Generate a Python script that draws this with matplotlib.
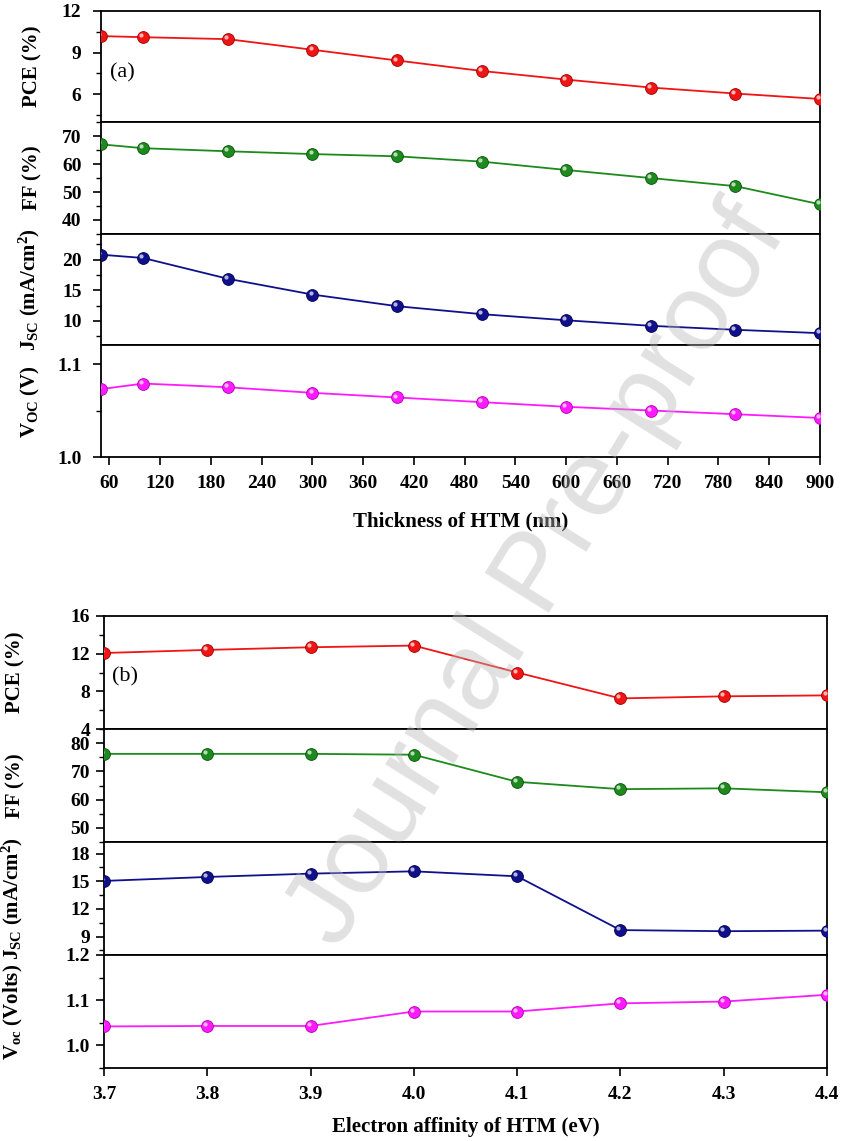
import matplotlib
matplotlib.use("Agg")
import matplotlib.pyplot as plt
from matplotlib.ticker import MultipleLocator
from matplotlib.transforms import ScaledTranslation

plt.rcParams['font.family'] = 'Liberation Serif'
plt.rcParams['font.weight'] = 'bold'
plt.rcParams['axes.labelweight'] = 'bold'
plt.rcParams['mathtext.fontset'] = 'custom'
plt.rcParams['mathtext.rm'] = 'Liberation Serif:bold'
plt.rcParams['mathtext.bf'] = 'Liberation Serif:bold'
plt.rcParams['mathtext.it'] = 'Liberation Serif:bold:italic'

# (a) HTM thickness sweep
thickness = [50, 100, 200, 300, 400, 500, 600, 700, 800, 900]
pce_a = [10.18, 10.10, 9.96, 9.20, 8.43, 7.68, 7.06, 6.49, 6.06, 5.67]
ff_a = [67.1, 65.7, 64.6, 63.6, 62.8, 60.9, 57.9, 55.0, 52.1, 45.6]
jsc_a = [20.80, 20.26, 16.87, 14.30, 12.40, 11.10, 10.10, 9.20, 8.55, 8.00]
voc_a = [1.073, 1.079, 1.075, 1.069, 1.064, 1.059, 1.054, 1.050, 1.046, 1.042]
thick_ticks = list(range(60, 901, 60))

# (b) electron affinity sweep
affinity = [3.7, 3.8, 3.9, 4.0, 4.1, 4.2, 4.3, 4.4]
pce_b = [12.07, 12.40, 12.68, 12.86, 10.00, 7.25, 7.47, 7.57]
ff_b = [76.2, 76.2, 76.2, 75.9, 66.3, 63.7, 64.0, 62.6]
jsc_b = [15.03, 15.46, 15.82, 16.07, 15.53, 9.70, 9.58, 9.64]
voc_b = [1.042, 1.043, 1.043, 1.075, 1.075, 1.093, 1.097, 1.112]
ea_ticks = [3.7, 3.8, 3.9, 4.0, 4.1, 4.2, 4.3, 4.4]

colors = {
    'pce': ('#f01414', '#a00000'),
    'ff': ('#1c8a1c', '#0a500a'),
    'jsc': ('#10108c', '#000050'),
    'voc': ('#ff1aff', '#b000b0'),
}

W, H = 841, 1141
fig = plt.figure(figsize=(W / 100, H / 100), dpi=100)


def make_rows(left, right, top, bottom):
    h = (bottom - top) / 4
    axes = []
    for i in range(4):
        y0 = top + i * h
        axes.append(fig.add_axes([left / W, 1 - (y0 + h) / H,
                                  (right - left) / W, h / H]))
    return axes


def draw_series(ax, x, y, key):
    face, edge = colors[key]
    ax.plot(x, y, '-', color=face, lw=1.3, zorder=2)
    ax.plot(x, y, 'o', ms=8.5, mfc=face, mec=edge, mew=0.6, zorder=3)
    # small highlight to give the markers a shaded-ball look
    shift = ax.transData + ScaledTranslation(-1.4 / 72, 1.4 / 72, fig.dpi_scale_trans)
    ax.plot(x, y, 'o', ms=3, mfc='white', mec='none', alpha=0.7,
            transform=shift, zorder=4)


def style_axis(ax, ylim, major, minor, ylabel, label_x, pad, last):
    ax.set_ylim(*ylim)
    ax.yaxis.set_major_locator(MultipleLocator(major))
    ax.yaxis.set_minor_locator(MultipleLocator(minor))
    ax.tick_params(axis='y', which='both', direction='out', right=False,
                   labelsize=14, pad=pad)
    ax.tick_params(axis='y', which='major', length=6, width=1.2)
    ax.tick_params(axis='y', which='minor', length=3.5, width=1.0)
    ax.tick_params(axis='x', which='both', top=False, bottom=last,
                   labelbottom=last, direction='out', length=6, width=1.2,
                   labelsize=14, pad=7)
    ax.xaxis.set_minor_locator(plt.NullLocator())
    for s in ax.spines.values():
        s.set_linewidth(1.3)
    ax.set_ylabel(ylabel, fontsize=15)
    ax.yaxis.set_label_coords(label_x, 0.5)


# panel (a)
rows_a = make_rows(101, 820, 10.7, 457)
specs_a = [
    (pce_a, 'pce', (4, 12), 3, 1.5, 'PCE (%)'),
    (ff_a, 'ff', (35, 75), 10, 5, 'FF (%)'),
    (jsc_a, 'jsc', (6, 24.2), 5, 2.5, r'J$_{\mathregular{SC}}$ (mA/cm$^{\mathregular{2}}$)'),
    (voc_a, 'voc', (1.0, 1.12), 0.1, 0.05, r'V$_{\mathregular{OC}}$ (V)'),
]
for i, (ax, (vals, key, ylim, mj, mn, lab)) in enumerate(zip(rows_a, specs_a)):
    draw_series(ax, thickness, vals, key)
    ax.set_xlim(50, 900)
    ax.set_xticks(thick_ticks)
    style_axis(ax, ylim, mj, mn, lab, -0.082, 8, i == 3)
rows_a[0].text(0.0125, 0.447, '(a)', transform=rows_a[0].transAxes,
               fontsize=16, fontweight='normal', va='center', ha='left')
rows_a[3].set_xlabel('Thickness of HTM (nm)', fontsize=15)
rows_a[3].xaxis.set_label_coords(0.5, -0.49)
rows_a[3].xaxis.label.set_va('top')

# panel (b)
rows_b = make_rows(104, 827, 616, 1068)
specs_b = [
    (pce_b, 'pce', (4, 16), 4, 2, 'PCE (%)'),
    (ff_b, 'ff', (45, 85), 10, 5, 'FF (%)'),
    (jsc_b, 'jsc', (7, 19.25), 3, 1.5, r'J$_{\mathregular{SC}}$ (mA/cm$^{\mathregular{2}}$)'),
    (voc_b, 'voc', (0.95, 1.2), 0.1, 0.05, r'V$_{\mathregular{oc}}$ (Volts)'),
]
for i, (ax, (vals, key, ylim, mj, mn, lab)) in enumerate(zip(rows_b, specs_b)):
    draw_series(ax, affinity, vals, key)
    ax.set_xlim(3.7, 4.4)
    ax.set_xticks(ea_ticks)
    ax.set_xticklabels([f'{t:.1f}' for t in ea_ticks])
    style_axis(ax, ylim, mj, mn, lab, -0.109, 4, i == 3)
rows_b[0].text(0.011, 0.463, '(b)', transform=rows_b[0].transAxes,
               fontsize=16, fontweight='normal', va='center', ha='left')
rows_b[3].set_xlabel('Electron affinity of HTM (eV)', fontsize=15)
rows_b[3].xaxis.set_label_coords(0.5, -0.43)
rows_b[3].xaxis.label.set_va('top')

# watermark across both panels
fig.text(0.64, 0.495, 'Journal Pre-proof', family='Liberation Sans',
         fontweight='normal', fontsize=79, rotation=58, color='#b8b8b8',
         alpha=0.42, ha='center', va='center', zorder=10)

fig.savefig('out.png', dpi=100)
